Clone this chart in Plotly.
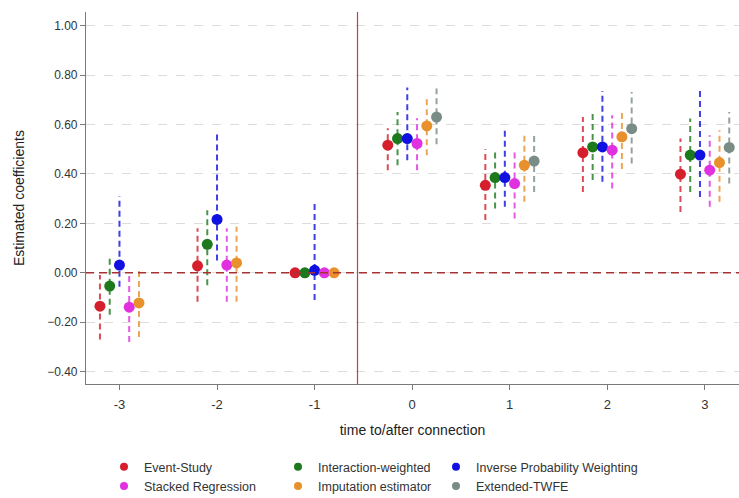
import plotly.graph_objects as go

periods = [-3, -2, -1, 0, 1, 2, 3]
tick_labels = ["-3", "-2", "-1", "0", "1", "2", "3"]

names = ["Event-Study", "Interaction-weighted", "Inverse Probability Weighting",
         "Stacked Regression", "Imputation estimator", "Extended-TWFE"]

event_coef = [-0.135, 0.028, 0.0, 0.516, 0.354, 0.486, 0.399]
event_lo   = [-0.270, -0.117, 0.0, 0.415, 0.213, 0.327, 0.246]
event_hi   = [-0.009, 0.180, 0.0, 0.585, 0.500, 0.630, 0.543]

iw_coef = [-0.054, 0.115, 0.0, 0.543, 0.385, 0.509, 0.476]
iw_lo   = [-0.170, -0.050, 0.0, 0.435, 0.260, 0.375, 0.327]
iw_hi   = [0.065, 0.253, 0.0, 0.650, 0.496, 0.644, 0.624]

ipw_coef = [0.031, 0.216, 0.010, 0.543, 0.385, 0.509, 0.476]
ipw_lo   = [-0.057, 0.050, -0.110, 0.455, 0.267, 0.368, 0.307]
ipw_hi   = [0.310, 0.570, 0.287, 0.750, 0.577, 0.735, 0.738]

stk_coef = [-0.139, 0.031, 0.0, 0.523, 0.361, 0.496, 0.415]
stk_lo   = [-0.280, -0.117, 0.0, 0.415, 0.220, 0.341, 0.267]
stk_hi   = [0.000, 0.180, 0.0, 0.625, 0.500, 0.637, 0.556]

imp_coef = [-0.122, 0.040, 0.0, 0.594, 0.435, 0.550, 0.446]
imp_lo   = [-0.260, -0.117, 0.0, 0.475, 0.287, 0.420, 0.287]
imp_hi   = [0.010, 0.186, 0.0, 0.710, 0.570, 0.657, 0.577]

etw_coef = [None, None, None, 0.630, 0.452, 0.583, 0.507]
etw_lo   = [None, None, None, 0.520, 0.327, 0.442, 0.361]
etw_hi   = [None, None, None, 0.745, 0.563, 0.731, 0.650]

colors = ["#d61f2c", "#1c7a1c", "#1010e0", "#e030e0", "#e8912c", "#7a8c86"]

series = [
    (event_coef, event_lo, event_hi),
    (iw_coef, iw_lo, iw_hi),
    (ipw_coef, ipw_lo, ipw_hi),
    (stk_coef, stk_lo, stk_hi),
    (imp_coef, imp_lo, imp_hi),
    (etw_coef, etw_lo, etw_hi),
]

fig = go.Figure()

def offset(i, t):
    # pre-periods have 5 estimators, post-periods 6
    return (i - 2) * 0.1 if t < 0 else (i - 2.5) * 0.1

for i, (coef, lo, hi) in enumerate(series):
    xs, ys = [], []
    px, py = [], []
    for t, c, l, h in zip(periods, coef, lo, hi):
        if c is None:
            continue
        x = t + offset(i, t)
        px.append(x)
        py.append(c)
        if l is not None and h is not None and h > l:
            xs += [x, x, None]
            ys += [l, h, None]
    fig.add_trace(go.Scatter(x=xs, y=ys, mode="lines", showlegend=False,
                             line=dict(color=colors[i], width=2, dash="6px,4px"),
                             opacity=0.8, hoverinfo="skip"))
    fig.add_trace(go.Scatter(x=px, y=py, mode="markers", showlegend=False,
                             marker=dict(color=colors[i], size=11), name=names[i]))

legend_of = ["legend", "legend2", "legend3", "legend", "legend2", "legend3"]
for i in range(6):
    fig.add_trace(go.Scatter(x=[None], y=[None], mode="markers", name=names[i],
                             legend=legend_of[i],
                             marker=dict(color=colors[i], size=8)))

# zero reference line and treatment line
fig.add_shape(type="line", xref="paper", yref="y", x0=0, x1=1, y0=0, y1=0,
              line=dict(color="#a83232", width=1.5, dash="8px,5px"))
fig.add_shape(type="line", xref="x", yref="paper", x0=-0.56, x1=-0.56, y0=0, y1=1,
              line=dict(color="#d03a3a", width=1.2))

# y-axis title
fig.add_annotation(text="Estimated coefficients", xref="paper", yref="paper",
                   x=-(86 - 19) / 653, y=0.5, xanchor="center", yanchor="middle",
                   textangle=-90, showarrow=False,
                   font=dict(size=14, color="#222222"))

leg_common = dict(orientation="v", xref="container", yref="container",
                  xanchor="left", yanchor="top", y=0.092,
                  font=dict(size=12.5, color="#333333"), bgcolor="rgba(0,0,0,0)")

fig.update_layout(
    width=739, height=498,
    margin=dict(l=86, r=0, t=12, b=114, autoexpand=False),
    paper_bgcolor="white", plot_bgcolor="white",
    font=dict(family="Liberation Sans, Arial, sans-serif", size=12, color="#333333"),
    legend=dict(x=104 / 739, **leg_common),
    legend2=dict(x=278 / 739, **leg_common),
    legend3=dict(x=436 / 739, **leg_common),
    xaxis=dict(range=[-3.343, 3.35], tickvals=periods, ticktext=tick_labels,
               showgrid=False, zeroline=False, showline=True, linecolor="#7a7a7a",
               linewidth=1.2, ticks="outside", ticklen=5, tickcolor="#7a7a7a",
               ticklabelstandoff=3,
               tickfont=dict(size=13, color="#333333"),
               title=dict(text="time to/after connection", font=dict(size=14, color="#222222"),
                          standoff=14)),
    yaxis=dict(range=[-0.45, 1.055], tickvals=[-0.4, -0.2, 0, 0.2, 0.4, 0.6, 0.8, 1.0],
               tickformat=".2f", showgrid=True, gridcolor="#dcdcdc", griddash="dash",
               zeroline=False, showline=True, linecolor="#7a7a7a", linewidth=1.2,
               ticks="outside", ticklen=5, tickcolor="#7a7a7a",
               tickfont=dict(size=12, color="#333333")),
)

fig.write_html("out.html")
